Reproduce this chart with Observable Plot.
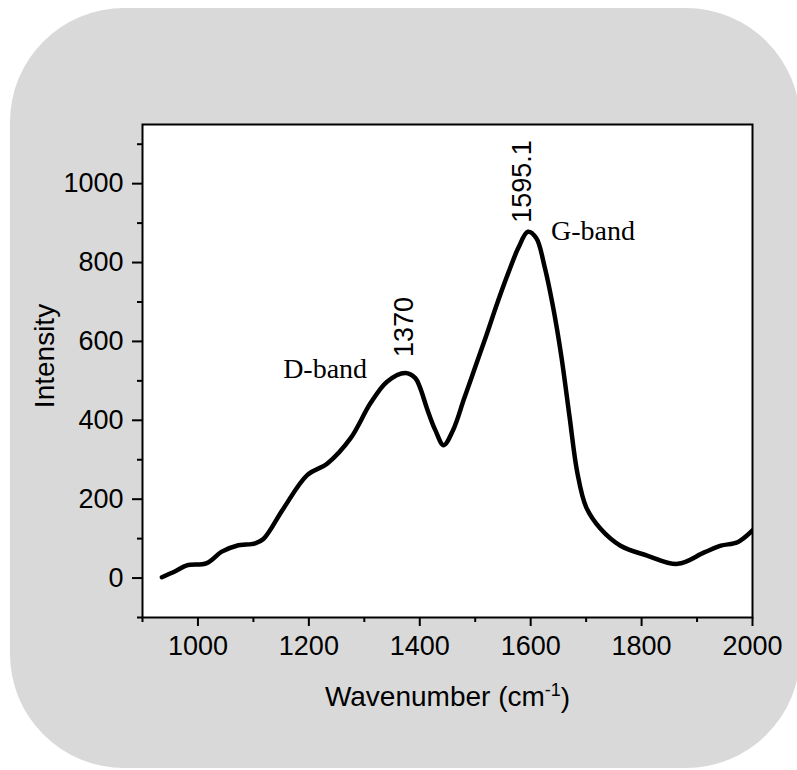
<!DOCTYPE html>
<html>
<head>
<meta charset="utf-8">
<script src="https://cdn.jsdelivr.net/npm/d3@7"></script>
<script src="https://cdn.jsdelivr.net/npm/@observablehq/plot@0.6"></script>
<style>
  html, body { margin: 0; padding: 0; background: #ffffff; overflow: hidden; }
  #wrap { position: relative; width: 797px; height: 770px; overflow: hidden; }
  #bg { position: absolute; left: 10px; top: 8px; width: 790px; height: 760px; border-radius: 114px; background: #d9d9d9; }
  #chart { position: absolute; left: 0; top: 0; }
</style>
</head>
<body>
<div id="wrap"><div id="bg"></div><div id="chart"></div></div>
<script>
// Raman spectrum
const wavenumber = [935, 960, 980, 1016, 1043, 1070, 1103, 1118, 1154, 1197, 1233, 1275, 1311, 1341, 1374, 1392, 1401, 1413, 1428, 1443, 1460, 1480, 1500, 1520, 1540, 1560, 1578, 1595, 1610, 1625, 1640, 1655, 1670, 1684, 1700, 1726, 1762, 1810, 1865, 1913, 1943, 1973, 2000];
const intensity  = [2, 18, 32, 38, 67, 82, 88, 99, 176, 261, 290, 354, 443, 498, 520, 507, 481, 430, 375, 337, 375, 455, 535, 615, 698, 775, 838, 878, 862, 790, 690, 565, 410, 268, 180, 125, 82, 57, 36, 65, 82, 91, 121];

const xMajorTicks = [1000, 1200, 1400, 1600, 1800, 2000];
const xMinorTicks = [900, 1100, 1300, 1500, 1700, 1900];
const yMajorTicks = [0, 200, 400, 600, 800, 1000];
const yMinorTicks = [-100, 100, 300, 500, 700, 900, 1100];

const peakWavenumber = [1370, 1595.1];
const peakIntensity = [520, 878];
const peakLabels = ["1370", "1595.1"];
const bandLabels = ["D-band", "G-band"];

const xTitle = "Wavenumber (cm-1)";
const yTitle = "Intensity";

const spectrum = wavenumber.map((w, i) => ({w, v: intensity[i]}));
const peaks = peakWavenumber.map((w, i) => ({w, v: peakIntensity[i], label: peakLabels[i], band: bandLabels[i]}));

const sans = "'Liberation Sans', Arial, Helvetica, sans-serif";
const serif = "'Liberation Serif', 'Times New Roman', serif";

const chart = Plot.plot({
  width: 797,
  height: 770,
  marginLeft: 142,
  marginRight: 45,
  marginTop: 124,
  marginBottom: 153,
  style: {background: "transparent", fontFamily: sans, fontSize: "27px", color: "black"},
  x: {domain: [900, 2000]},
  y: {domain: [-100, 1150]},
  marks: [
    Plot.frame({fill: "white", stroke: null}),
    Plot.axisX({ticks: xMajorTicks, tickSize: 9, tickPadding: 9, strokeWidth: 2, tickFormat: d => String(d), label: null, fontSize: 27, fill: "black"}),
    Plot.axisX({ticks: xMinorTicks, tickSize: 5, strokeWidth: 2, tickFormat: () => "", label: null}),
    Plot.axisY({ticks: yMajorTicks, tickSize: 10, tickPadding: 9, strokeWidth: 2, tickFormat: d => String(d), label: null, fontSize: 27, fill: "black"}),
    Plot.axisY({ticks: yMinorTicks, tickSize: 5, strokeWidth: 2, tickFormat: () => "", label: null}),
    Plot.line(spectrum, {x: "w", y: "v", curve: "catmull-rom", stroke: "black", strokeWidth: 4.5, clip: true}),
    Plot.frame({stroke: "black", strokeWidth: 2}),
    Plot.text([peaks[0]], {x: "w", y: "v", text: "label", rotate: -90, textAnchor: "start", lineAnchor: "bottom", dx: 10, dy: -16, fontSize: 27, fontFamily: sans, fill: "black"}),
    Plot.text([peaks[1]], {x: "w", y: "v", text: "label", rotate: -90, textAnchor: "start", lineAnchor: "bottom", dx: 3, dy: -9, fontSize: 27, fontFamily: sans, fill: "black"}),
    Plot.text([peaks[0]], {x: "w", y: "v", text: "band", textAnchor: "end", lineAnchor: "bottom", dx: -36, dy: 5, fontSize: 28, fontFamily: serif, fill: "black"}),
    Plot.text([peaks[1]], {x: "w", y: "v", text: "band", textAnchor: "start", lineAnchor: "bottom", dx: 23, dy: 8, fontSize: 28, fontFamily: serif, fill: "black"}),
    Plot.text([yTitle], {text: d => d, frameAnchor: "left", rotate: -90, textAnchor: "middle", lineAnchor: "bottom", dx: -89, dy: -15, fontSize: 28, fontFamily: sans, fill: "black"}),
    Plot.text([xTitle], {text: d => d, frameAnchor: "bottom", textAnchor: "middle", lineAnchor: "bottom", dy: 88, fontSize: 28, fontFamily: sans, fill: "black"})
  ]
});

document.getElementById("chart").appendChild(chart);

// superscript for the unit
d3.select(chart).selectAll("text").filter(function() { return this.textContent === xTitle; }).each(function() {
  const t = d3.select(this);
  t.text(null);
  t.append("tspan").text("Wavenumber (cm");
  t.append("tspan").attr("font-size", 18).attr("dy", "-0.55em").text("-1");
  t.append("tspan").attr("dy", "0.4em").text(")");
});
</script>
</body>
</html>
